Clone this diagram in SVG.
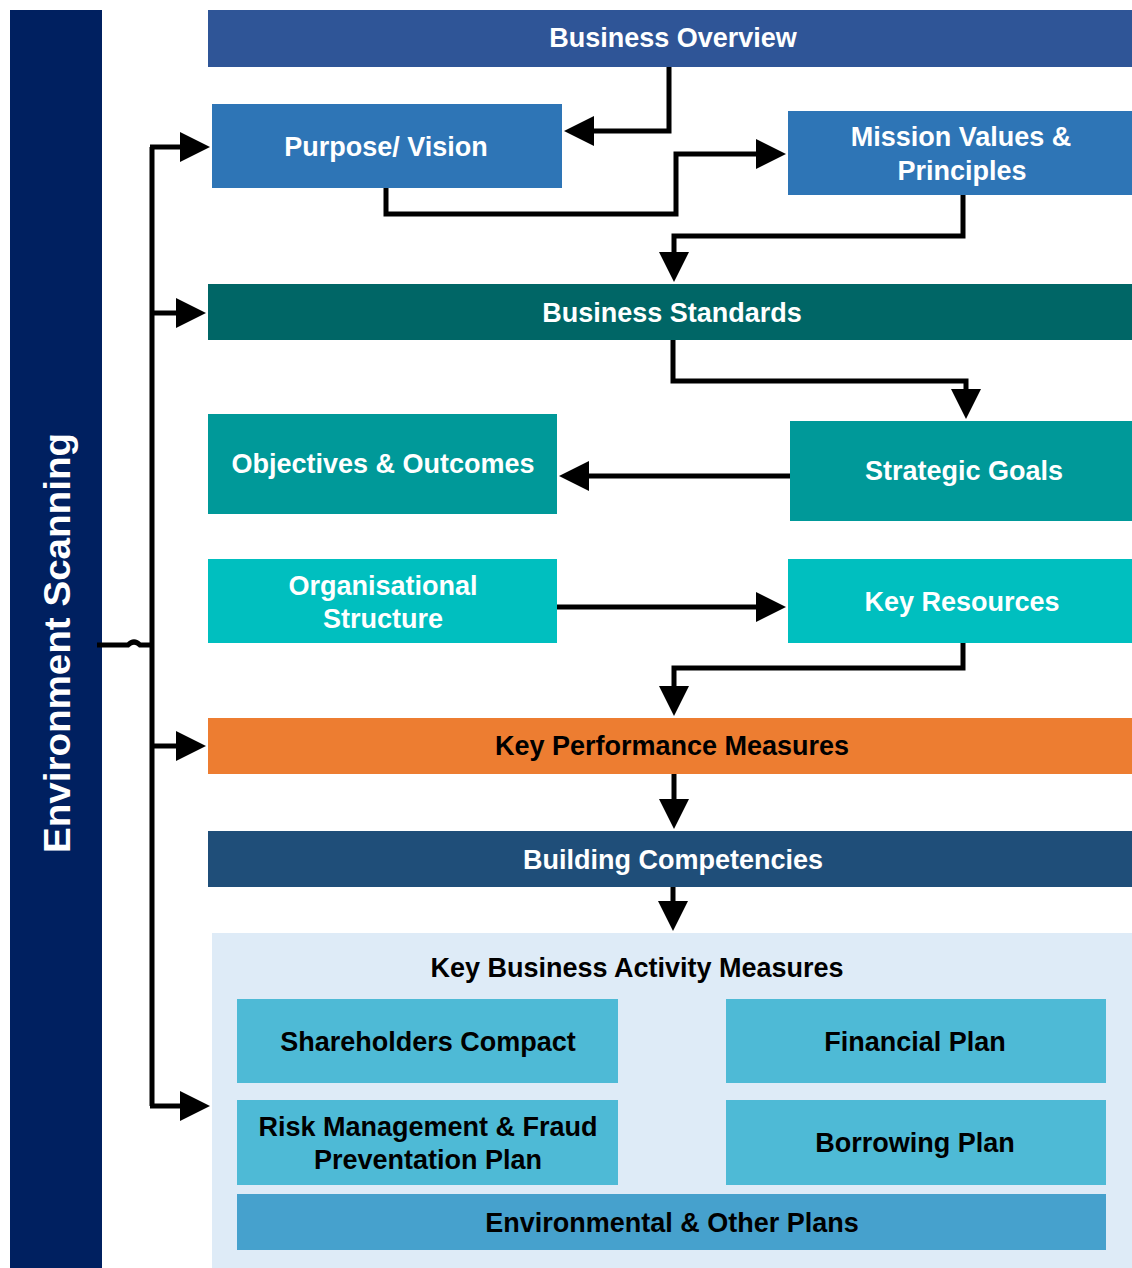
<svg xmlns="http://www.w3.org/2000/svg" width="1132" height="1268" viewBox="0 0 1132 1268">
<style>
text{font-family:"Liberation Sans",Arial,sans-serif;font-weight:bold;font-size:27px;text-anchor:middle}
.w{fill:#ffffff}
.k{fill:#000000}
.c{fill:none;stroke:#000;stroke-width:5;stroke-linejoin:miter}
</style>
<defs>
<marker id="ah" markerUnits="userSpaceOnUse" markerWidth="32" markerHeight="32" refX="2" refY="15" orient="auto">
<path d="M0,0 L30,15 L0,30 z" fill="#000"/>
</marker>
</defs>
<rect width="1132" height="1268" fill="#ffffff"/>

<g id="env-scanning">
<rect x="10" y="10" width="92" height="1258" fill="#002060"/>
<text class="w" transform="translate(70,643) rotate(-90)" style="font-size:37px" textLength="420" lengthAdjust="spacingAndGlyphs">Environment  Scanning</text>
</g>

<g id="connectors">
<path class="c" d="M669,67 V131 H592" marker-end="url(#ah)"/>
<path class="c" d="M386,188 V214 H676 V154 H758" marker-end="url(#ah)"/>
<path class="c" d="M963,195 V236 H674 V254" marker-end="url(#ah)"/>
<path class="c" d="M673,340 V381 H966 V391" marker-end="url(#ah)"/>
<path class="c" d="M790,476 H587" marker-end="url(#ah)"/>
<path class="c" d="M557,607 H758" marker-end="url(#ah)"/>
<path class="c" d="M963,643 V668 H674 V688" marker-end="url(#ah)"/>
<path class="c" d="M674,774 V801" marker-end="url(#ah)"/>
<path class="c" d="M673,887 V903" marker-end="url(#ah)"/>
<path class="c" d="M97,645 H128 Q134,639 140,645 H152"/>
<path class="c" d="M152,147 V1106"/>
<path class="c" d="M150,147 H182" marker-end="url(#ah)"/>
<path class="c" d="M150,313 H178" marker-end="url(#ah)"/>
<path class="c" d="M150,746 H178" marker-end="url(#ah)"/>
<path class="c" d="M150,1106 H182" marker-end="url(#ah)"/>
</g>

<g id="business-overview">
<rect x="208" y="10" width="924" height="57" fill="#2F5597"/>
<text class="w" x="673" y="47">Business Overview</text>
</g>

<g id="purpose-vision">
<rect x="212" y="104" width="350" height="84" fill="#2E75B6"/>
<text class="w" x="386" y="156">Purpose/ Vision</text>
</g>

<g id="mission-values">
<rect x="788" y="111" width="344" height="84" fill="#2E75B6"/>
<text class="w" x="961" y="146">Mission Values &amp;</text>
<text class="w" x="962" y="180">Principles</text>
</g>

<g id="business-standards">
<rect x="208" y="284" width="924" height="56" fill="#006666"/>
<text class="w" x="672" y="322">Business Standards</text>
</g>

<g id="objectives-outcomes">
<rect x="208" y="414" width="349" height="100" fill="#009999"/>
<text class="w" x="383" y="473">Objectives &amp; Outcomes</text>
</g>

<g id="strategic-goals">
<rect x="790" y="421" width="342" height="100" fill="#009999"/>
<text class="w" x="964" y="480">Strategic Goals</text>
</g>

<g id="organisational-structure">
<rect x="208" y="559" width="349" height="84" fill="#00BFBF"/>
<text class="w" x="383" y="595">Organisational</text>
<text class="w" x="383" y="628">Structure</text>
</g>

<g id="key-resources">
<rect x="788" y="559" width="344" height="84" fill="#00BFBF"/>
<text class="w" x="962" y="611">Key Resources</text>
</g>

<g id="key-performance-measures">
<rect x="208" y="718" width="924" height="56" fill="#ED7D31"/>
<text class="k" x="672" y="755">Key Performance Measures</text>
</g>

<g id="building-competencies">
<rect x="208" y="831" width="924" height="56" fill="#1F4E79"/>
<text class="w" x="673" y="869">Building Competencies</text>
</g>

<g id="key-business-activity-measures">
<rect x="212" y="933" width="920" height="335" fill="#DEEBF7"/>
<text class="k" x="637" y="977">Key Business Activity Measures</text>
</g>

<g id="shareholders-compact">
<rect x="237" y="999" width="381" height="84" fill="#4EBAD6"/>
<text class="k" x="428" y="1051">Shareholders Compact</text>
</g>

<g id="financial-plan">
<rect x="726" y="999" width="380" height="84" fill="#4EBAD6"/>
<text class="k" x="915" y="1051">Financial Plan</text>
</g>

<g id="risk-management">
<rect x="237" y="1100" width="381" height="85" fill="#4EBAD6"/>
<text class="k" x="428" y="1136">Risk Management &amp; Fraud</text>
<text class="k" x="428" y="1169">Preventation Plan</text>
</g>

<g id="borrowing-plan">
<rect x="726" y="1100" width="380" height="85" fill="#4EBAD6"/>
<text class="k" x="915" y="1152">Borrowing Plan</text>
</g>

<g id="environmental-other-plans">
<rect x="237" y="1194" width="869" height="56" fill="#46A1CD"/>
<text class="k" x="672" y="1232">Environmental &amp; Other Plans</text>
</g>
</svg>
